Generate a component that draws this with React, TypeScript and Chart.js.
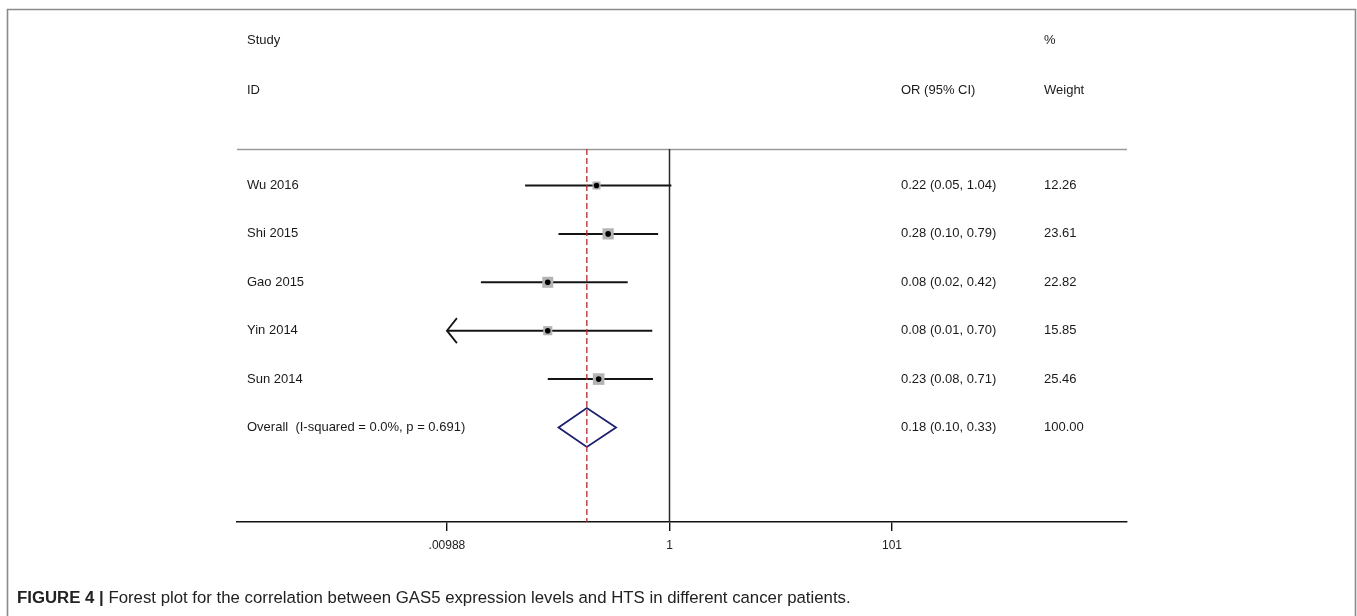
import React, { useEffect, useRef } from "react";
import { Chart, registerables } from "chart.js";

Chart.register(...registerables);

const studies = ["Wu 2016", "Shi 2015", "Gao 2015", "Yin 2014", "Sun 2014"];
const orValues = [0.22, 0.28, 0.08, 0.08, 0.23];
const ciLower = [0.05, 0.1, 0.02, 0.009, 0.08];
const ciUpper = [1.04, 0.79, 0.42, 0.7, 0.71];
const weights = [12.26, 23.61, 22.82, 15.85, 25.46];

const overallLabel = "Overall  (I-squared = 0.0%, p = 0.691)";
const overallOR = 0.18;
const overallLower = 0.1;
const overallUpper = 0.33;
const overallWeight = 100;

const tickValues = [0.00988, 1, 101];
const tickLabels = [".00988", "1", "101"];

const headerStudy = ["Study", "ID"];
const headerEffect = "OR (95% CI)";
const headerWeight = ["%", "Weight"];
const captionBold = "FIGURE 4 |";
const captionText =
  " Forest plot for the correlation between GAS5 expression levels and HTS in different cancer patients.";

const FONT = "'Liberation Sans', Arial, sans-serif";

export default function App() {
  const ref = useRef<HTMLCanvasElement | null>(null);

  useEffect(() => {
    const canvas = ref.current;
    if (!canvas) return;

    const forestPlugin = {
      id: "forest",
      beforeDatasetsDraw(chart: any) {
        const ctx = chart.ctx;
        const xs = chart.scales.x;
        const ys = chart.scales.y;
        const area = chart.chartArea;
        const plotMin = tickValues[0];
        const plotMax = tickValues[tickValues.length - 1];
        ctx.save();
        // top rule
        ctx.strokeStyle = "#9a9a9a";
        ctx.lineWidth = 1.5;
        ctx.beginPath();
        ctx.moveTo(area.left, area.top + 0.5);
        ctx.lineTo(area.right, area.top + 0.5);
        ctx.stroke();
        // null line at 1
        const x1 = xs.getPixelForValue(1);
        ctx.strokeStyle = "#2a2a2a";
        ctx.lineWidth = 1.5;
        ctx.beginPath();
        ctx.moveTo(x1, area.top);
        ctx.lineTo(x1, area.bottom);
        ctx.stroke();
        const xo = xs.getPixelForValue(overallOR);
        // CI lines + squares
        for (let i = 0; i < studies.length; i++) {
          const y = ys.getPixelForValue(i);
          const lo = Math.max(ciLower[i], plotMin);
          const hi = Math.min(ciUpper[i], plotMax);
          const xl = xs.getPixelForValue(lo);
          const xh = xs.getPixelForValue(hi);
          ctx.strokeStyle = "#151515";
          ctx.lineWidth = 2;
          ctx.beginPath();
          ctx.moveTo(xl, y);
          ctx.lineTo(xh, y);
          ctx.stroke();
          if (ciLower[i] < plotMin) {
            ctx.lineWidth = 1.8;
            ctx.beginPath();
            ctx.moveTo(xl + 10, y - 12.5);
            ctx.lineTo(xl, y);
            ctx.lineTo(xl + 10, y + 12.5);
            ctx.stroke();
          }
          const side = 2.3 * Math.sqrt(weights[i]);
          const xc = xs.getPixelForValue(orValues[i]);
          ctx.fillStyle = "#b4b4b4";
          ctx.fillRect(xc - side / 2, y - side / 2, side, side);
        }
        // diamond
        const yd = ys.getPixelForValue(studies.length);
        const dl = xs.getPixelForValue(overallLower);
        const dh = xs.getPixelForValue(overallUpper);
        const dc = xs.getPixelForValue(overallOR);
        ctx.strokeStyle = "#1c1f6e";
        ctx.lineWidth = 1.8;
        ctx.beginPath();
        ctx.moveTo(dl, yd);
        ctx.lineTo(dc, yd - 19.5);
        ctx.lineTo(dh, yd);
        ctx.lineTo(dc, yd + 19.5);
        ctx.closePath();
        ctx.stroke();
        // overall dashed line
        ctx.strokeStyle = "#b82a33";
        ctx.lineWidth = 1.3;
        ctx.setLineDash([6, 3]);
        ctx.beginPath();
        ctx.moveTo(xo, area.top);
        ctx.lineTo(xo, area.bottom);
        ctx.stroke();
        ctx.setLineDash([]);
        ctx.restore();
      },
      afterDraw(chart: any) {
        const ctx = chart.ctx;
        const ys = chart.scales.y;
        ctx.save();
        // frame
        ctx.strokeStyle = "#8a8a8a";
        ctx.lineWidth = 1.6;
        ctx.beginPath();
        ctx.moveTo(7.5, 616);
        ctx.lineTo(7.5, 9.5);
        ctx.lineTo(1355.5, 9.5);
        ctx.lineTo(1355.5, 616);
        ctx.stroke();

        ctx.fillStyle = "#1a1a1a";
        ctx.font = "13px " + FONT;
        ctx.textBaseline = "middle";
        ctx.textAlign = "left";
        const colStudy = 247;
        const colEffect = 901;
        const colWeight = 1044;
        ctx.fillText(headerStudy[0], colStudy, 40);
        ctx.fillText(headerStudy[1], colStudy, 90);
        ctx.fillText(headerEffect, colEffect, 90);
        ctx.fillText(headerWeight[0], colWeight, 40);
        ctx.fillText(headerWeight[1], colWeight, 90);
        for (let i = 0; i < studies.length; i++) {
          const y = ys.getPixelForValue(i);
          ctx.fillText(studies[i], colStudy, y);
          ctx.fillText(
            `${orValues[i].toFixed(2)} (${ciLower[i].toFixed(2)}, ${ciUpper[i].toFixed(2)})`,
            colEffect,
            y
          );
          ctx.fillText(weights[i].toFixed(2), colWeight, y);
        }
        const yo = ys.getPixelForValue(studies.length);
        ctx.fillText(overallLabel, colStudy, yo);
        ctx.fillText(
          `${overallOR.toFixed(2)} (${overallLower.toFixed(2)}, ${overallUpper.toFixed(2)})`,
          colEffect,
          yo
        );
        ctx.fillText(overallWeight.toFixed(2), colWeight, yo);

        // caption
        ctx.fillStyle = "#222";
        ctx.font = "bold 16.8px " + FONT;
        ctx.fillText(captionBold, 17, 598);
        const w = ctx.measureText(captionBold).width;
        ctx.font = "16.8px " + FONT;
        ctx.fillText(captionText, 17 + w, 598);
        ctx.restore();
      },
    };

    const left = 237;
    const right = 1127;
    const xOne = 669.5;
    const pxPerDecade = 111;
    const xMin = Math.pow(10, (left - xOne) / pxPerDecade);
    const xMax = Math.pow(10, (right - xOne) / pxPerDecade);

    const chart = new Chart(canvas, {
      type: "scatter",
      data: {
        datasets: [
          {
            data: orValues.map((v, i) => ({ x: v, y: i })),
            pointRadius: 2.8,
            pointBackgroundColor: "#000",
            pointBorderWidth: 0,
            showLine: false,
          },
        ],
      },
      options: {
        responsive: false,
        animation: false,
        devicePixelRatio: 1,
        layout: { padding: { left: left, right: 1357 - right, top: 149, bottom: 54 } },
        plugins: { legend: { display: false }, tooltip: { enabled: false } },
        scales: {
          x: {
            type: "logarithmic",
            min: xMin,
            max: xMax,
            afterBuildTicks: (scale: any) => {
              scale.ticks = tickValues.map((v) => ({ value: v }));
            },
            afterFit: (scale: any) => {
              scale.height = 40;
            },
            ticks: {
              autoSkip: false,
              maxRotation: 0,
              padding: 7,
              color: "#222",
              font: { family: "'Liberation Sans Narrow', 'Liberation Sans', Arial", size: 12 },
              callback: (_v: any, i: number) => tickLabels[i],
            },
            grid: {
              display: true,
              drawOnChartArea: false,
              drawTicks: true,
              tickLength: 9,
              color: "#111",
              lineWidth: 1.4,
            },
            border: { display: true, color: "#111", width: 1.6 },
          },
          y: {
            type: "linear",
            min: -0.754,
            max: 6.953,
            reverse: true,
            display: false,
          },
        },
      },
      plugins: [forestPlugin],
    });

    return () => chart.destroy();
  }, []);

  return (
    <canvas
      ref={ref}
      width={1357}
      height={616}
      style={{ position: "absolute", left: 0, top: 0, width: 1357, height: 616 }}
    />
  );
}
